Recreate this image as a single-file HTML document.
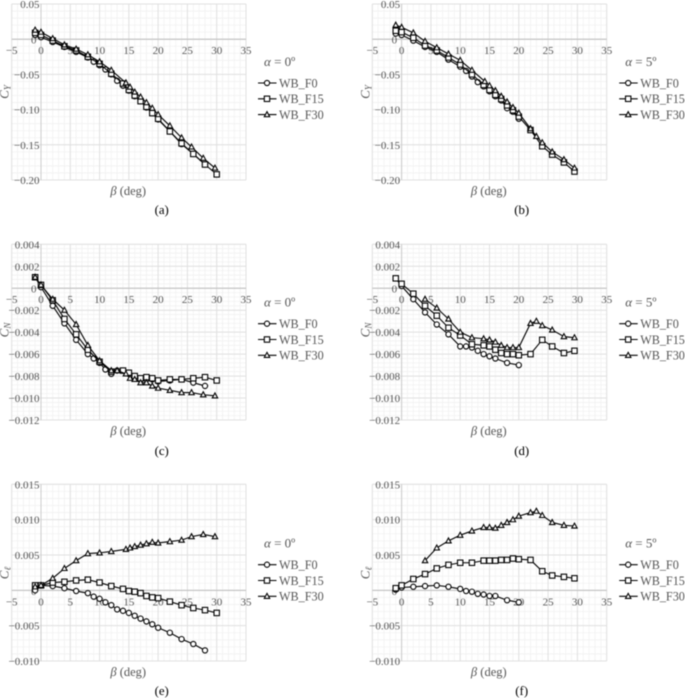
<!DOCTYPE html>
<html>
<head>
<meta charset="utf-8">
<title>Aerodynamic coefficients versus sideslip angle</title>
<style>
html,body{margin:0;padding:0;background:#fff;width:685px;height:698px;overflow:hidden}
svg{display:block;filter:blur(0.5px)}
text{font-family:"Liberation Serif",serif}
</style>
</head>
<body>
<svg id="figure" width="685" height="698" viewBox="0 0 685 698" xmlns="http://www.w3.org/2000/svg"></svg>
<script>
// Axis ticks
const xTickLabels = [-5, 0, 5, 10, 15, 20, 25, 30, 35];
const yTicksCY = [0.05, 0, -0.05, -0.10, -0.15, -0.20];
const yTicksCN = [0.004, 0.002, 0, -0.002, -0.004, -0.006, -0.008, -0.010, -0.012];
const yTicksCL = [0.015, 0.010, 0.005, 0, -0.005, -0.010];
const seriesNames = ["WB_F0", "WB_F15", "WB_F30"];

// Panel (a) CY, alpha = 0
const aF0Beta = [-1,0,2,4,6,8,9,10,11,12,13,14,15,16,17,18,19,20,22,24,26,28];
const aF0Values = [0.006,0.003,-0.004,-0.011,-0.018,-0.026,-0.032,-0.037,-0.043,-0.050,-0.059,-0.066,-0.073,-0.081,-0.088,-0.097,-0.105,-0.114,-0.131,-0.149,-0.163,-0.178];
const aF15Beta = [-1,0,2,4,6,8,10,12,14,15,16,17,18,19,20,22,24,26,28,30];
const aF15Values = [0.009,0.006,-0.002,-0.010,-0.016,-0.025,-0.035,-0.049,-0.063,-0.072,-0.080,-0.088,-0.096,-0.105,-0.113,-0.131,-0.148,-0.163,-0.178,-0.192];
const aF30Beta = [-1,0,2,4,6,8,10,12,14.5,15.2,16,17,18,19,20,22,24,25.7,27.7,29.7];
const aF30Values = [0.013,0.010,0.001,-0.008,-0.014,-0.022,-0.032,-0.044,-0.062,-0.068,-0.075,-0.082,-0.090,-0.098,-0.107,-0.123,-0.140,-0.153,-0.169,-0.183];

// Panel (b) CY, alpha = 5
const bF0Beta = [-1,0,2,4,6,8,10,11,12,13,14,15,16,17,18,19,20];
const bF0Values = [0.008,0.006,-0.002,-0.011,-0.018,-0.029,-0.039,-0.045,-0.053,-0.061,-0.067,-0.074,-0.081,-0.087,-0.098,-0.103,-0.113];
const bF15Beta = [-1,0,2,4,6,8,10,12,14,15,16,17,18,19,20,22,24,25.7,27.7,29.5];
const bF15Values = [0.012,0.010,0.002,-0.009,-0.016,-0.026,-0.036,-0.050,-0.065,-0.072,-0.079,-0.085,-0.094,-0.101,-0.110,-0.129,-0.152,-0.164,-0.175,-0.188];
const bF30Beta = [-1,0,2,4,6,8,10,12,14.2,15,16,17,18,19,20,22,23,24,25.7,27.7,29.5];
const bF30Values = [0.020,0.017,0.009,-0.003,-0.012,-0.021,-0.030,-0.044,-0.060,-0.066,-0.073,-0.081,-0.089,-0.097,-0.105,-0.127,-0.138,-0.147,-0.160,-0.171,-0.183];

// Panel (c) CN, alpha = 0
const cF0Beta = [-1,0,2,4,6,8,9,10,11,12,13,14,15,16,17,18,19,20,22,24,26,28];
const cF0Values = [0.0010,0.0001,-0.0016,-0.0032,-0.0047,-0.0060,-0.0064,-0.0068,-0.0074,-0.0078,-0.0075,-0.0075,-0.0078,-0.0081,-0.0083,-0.0083,-0.0083,-0.0085,-0.0084,-0.0083,-0.0086,-0.0089];
const cF15Beta = [-1,0,2,4,6,8,10,12,14,15,16,17,18,19,20,22,24,26,28,30];
const cF15Values = [0.0010,0.0003,-0.0011,-0.0028,-0.0042,-0.0056,-0.0067,-0.0076,-0.0075,-0.0077,-0.0080,-0.0082,-0.0081,-0.0082,-0.0084,-0.0083,-0.0083,-0.0082,-0.0081,-0.0084];
const cF30Beta = [-1,0,2,4,6,8,10,12,13,14.5,15.2,16,17,18,19,20,22,24,25.7,27.7,29.7];
const cF30Values = [0.0010,0.0003,-0.0010,-0.0020,-0.0033,-0.0052,-0.0066,-0.0075,-0.0075,-0.0078,-0.0082,-0.0083,-0.0086,-0.0086,-0.0089,-0.0091,-0.0093,-0.0095,-0.0095,-0.0097,-0.0098];

// Panel (d) CN, alpha = 5
const dF0Beta = [-1,0,2,4,6,8,10,11,12,13,14,15,16,18,20];
const dF0Values = [0.0009,0.0002,-0.0010,-0.0022,-0.0033,-0.0042,-0.0053,-0.0053,-0.0054,-0.0057,-0.0060,-0.0062,-0.0064,-0.0068,-0.0070];
const dF15Beta = [-1,0,2,4,6,8,10,12,14,15,16,17,18,19,20,22,24,25.7,27.7,29.5];
const dF15Values = [0.0009,0.0004,-0.0005,-0.0016,-0.0025,-0.0036,-0.0043,-0.0051,-0.0052,-0.0053,-0.0056,-0.0059,-0.0060,-0.0060,-0.0061,-0.0060,-0.0047,-0.0053,-0.0059,-0.0057];
const dF30Beta = [4,6,8,10,12,14,15,16,17,18,19,20,22,23,24,25.7,27.7,29.5];
const dF30Values = [-0.0010,-0.0018,-0.0028,-0.0040,-0.0045,-0.0046,-0.0047,-0.0049,-0.0052,-0.0054,-0.0054,-0.0054,-0.0032,-0.0030,-0.0034,-0.0038,-0.0044,-0.0045];

// Panel (e) Cl, alpha = 0
const eF0Beta = [-1,0,2,4,6,8,9,10,11,12,13,14,15,16,17,18,19,20,22,24,26,28];
const eF0Values = [0.0000,0.0007,0.0006,0.0003,-0.0001,-0.0004,-0.0009,-0.0012,-0.0017,-0.0021,-0.0027,-0.0029,-0.0032,-0.0036,-0.0040,-0.0044,-0.0048,-0.0053,-0.0060,-0.0069,-0.0076,-0.0085];
const eF15Beta = [-1,0,2,4,6,8,10,12,14,15,16,17,18,19,20,22,24,26,28,30];
const eF15Values = [0.0007,0.0007,0.0011,0.0012,0.0014,0.0015,0.0011,0.0006,0.0002,-0.0001,-0.0002,-0.0004,-0.0008,-0.0010,-0.0011,-0.0016,-0.0021,-0.0025,-0.0028,-0.0032];
const eF30Beta = [-1,0,2,4,6,8,10,12,14.5,15.2,16,17,18,19,20,22,24,25.7,27.7,29.7];
const eF30Values = [0.0005,0.0007,0.0017,0.0031,0.0042,0.0052,0.0053,0.0055,0.0058,0.0060,0.0062,0.0064,0.0066,0.0068,0.0067,0.0069,0.0071,0.0076,0.0079,0.0076];

// Panel (f) Cl, alpha = 5
const fF0Beta = [-1,0,2,4,6,8,10,11,12,13,14,15,16,18,20];
const fF0Values = [0.0001,0.0004,0.0005,0.0006,0.0007,0.0005,0.0002,-0.0001,-0.0002,-0.0005,-0.0006,-0.0008,-0.0008,-0.0014,-0.0017];
const fF15Beta = [-1,0,2,4,6,8,10,12,14,15,16,17,18,19,20,22,24,25.7,27.7,29.5];
const fF15Values = [0.0003,0.0007,0.0016,0.0023,0.0031,0.0036,0.0039,0.0039,0.0042,0.0042,0.0042,0.0043,0.0043,0.0045,0.0044,0.0043,0.0027,0.0021,0.0019,0.0017];
const fF30Beta = [4,6,8,10,12,14,15,16,17,18,19,20,22,23,24,25.7,27.7,29.5];
const fF30Values = [0.0042,0.0060,0.0070,0.0078,0.0084,0.0089,0.0089,0.0088,0.0092,0.0096,0.0100,0.0105,0.0110,0.0112,0.0106,0.0096,0.0092,0.0091];

const NS = "http://www.w3.org/2000/svg";
const figure = document.getElementById("figure");

function svgEl(parent, tag, attrs) {
  const el = document.createElementNS(NS, tag);
  for (const k in attrs) el.setAttribute(k, attrs[k]);
  parent.appendChild(el);
  return el;
}

function marker(parent, kind, cx, cy) {
  let el;
  if (kind === 0) {
    el = svgEl(parent, "circle", {cx: cx, cy: cy, r: 2.6});
  } else if (kind === 1) {
    el = svgEl(parent, "rect", {x: cx - 2.7, y: cy - 2.7, width: 5.4, height: 5.4});
  } else {
    el = svgEl(parent, "polygon", {points: (cx - 2.7) + "," + (cy + 2.1) + " " + (cx + 2.7) + "," + (cy + 2.1) + " " + cx + "," + (cy - 2.9)});
  }
  el.setAttribute("fill", "#fff");
  el.setAttribute("stroke", "#000");
  el.setAttribute("stroke-width", "1.1");
  
  
  return el;
}

function formatY(v, digits) {
  if (v === 0) return "0";
  return (v < 0 ? "\u2212" : "") + Math.abs(v).toFixed(digits);
}

function drawPanel(p) {
  const g = svgEl(figure, "g", {});
  
  

  const xScale = function (v) { return p.left + (v + 5) * (p.right - p.left) / 40; };
  const yMax = p.yTicks[0];
  const yMin = p.yTicks[p.yTicks.length - 1];
  const yScale = function (v) { return p.top + (yMax - v) * (p.bottom - p.top) / (yMax - yMin); };

  // Minor grid
  const minorGrid = svgEl(g, "g", {stroke: "#f1f1f1", "stroke-width": "0.8"});
  
  
  for (let i = -5; i <= 35; i++) {
    svgEl(minorGrid, "line", {x1: xScale(i), x2: xScale(i), y1: p.top, y2: p.bottom});
  }
  const yStep = p.yTicks[0] - p.yTicks[1];
  const minorCount = (p.yTicks.length - 1) * 5;
  for (let i = 0; i <= minorCount; i++) {
    const yv = yMax - i * yStep / 5;
    svgEl(minorGrid, "line", {x1: p.left, x2: p.right, y1: yScale(yv), y2: yScale(yv)});
  }

  // Major grid
  const majorGrid = svgEl(g, "g", {stroke: "#e0e0e0", "stroke-width": "1"});
  
  
  xTickLabels.forEach(function (t) {
    svgEl(majorGrid, "line", {x1: xScale(t), x2: xScale(t), y1: p.top, y2: p.bottom});
  });
  p.yTicks.forEach(function (t) {
    svgEl(majorGrid, "line", {x1: p.left, x2: p.right, y1: yScale(t), y2: yScale(t)});
  });

  // Axes
  const xAxis = svgEl(g, "line", {x1: p.left, x2: p.right, y1: yScale(0), y2: yScale(0), stroke: "#bebebe", "stroke-width": "1"});
  
  
  const yAxis = svgEl(g, "line", {x1: xScale(0), x2: xScale(0), y1: p.top, y2: p.bottom, stroke: "#cccccc", "stroke-width": "1"});
  
  

  // X tick labels
  xTickLabels.forEach(function (t) {
    const lab = svgEl(g, "text", {x: xScale(t), y: yScale(0) + 15, "text-anchor": "middle", "font-size": "11", fill: "#555"});
    lab.textContent = t < 0 ? "\u2212" + Math.abs(t) : String(t);
    
    
  });

  // Y tick labels
  p.yTicks.forEach(function (t) {
    const lab = svgEl(g, "text", {x: t === 0 ? xScale(0) - 4.5 : xScale(0) - 1.5, y: yScale(t) + (t === 0 ? 4.5 : 4), "text-anchor": "end", "font-size": "11", fill: "#555"});
    lab.textContent = formatY(t, p.digits);
    
    
  });

  // Series
  p.series.forEach(function (s, idx) {
    const sg = svgEl(g, "g", {});
    
    
    const pts = s.beta.map(function (b, i) { return xScale(b) + "," + yScale(s.values[i]); }).join(" ");
    svgEl(sg, "polyline", {points: pts, fill: "none", stroke: "#000", "stroke-width": "1.1"});
    s.beta.forEach(function (b, i) {
      marker(sg, idx, xScale(b), yScale(s.values[i]));
    });
  });

  // Axis titles
  const xt = svgEl(g, "text", {x: p.left + 116.5, y: p.bottom + 15, "text-anchor": "middle", "font-size": "12.5", fill: "#555"});
  
  
  const xtBeta = svgEl(xt, "tspan", {"font-style": "italic"});
  xtBeta.textContent = "\u03B2";
  const xtRest = svgEl(xt, "tspan", {});
  xtRest.textContent = " (deg)";

  const yt = svgEl(g, "text", {transform: "translate(" + (p.left - 3) + "," + p.yTitleY + ") rotate(-90)", "text-anchor": "middle", "font-size": "13", "font-style": "italic", fill: "#555"});
  
  
  const ytC = svgEl(yt, "tspan", {});
  ytC.textContent = "C";
  const ytSub = svgEl(yt, "tspan", {dy: "2", "font-size": "9"});
  ytSub.textContent = p.sub;

  // Alpha label
  const al = svgEl(g, "text", {x: p.legendX + 6, y: p.legendY - 17, "font-size": "13", fill: "#555"});
  
  
  const alA = svgEl(al, "tspan", {"font-style": "italic"});
  alA.textContent = "\u03B1";
  const alB = svgEl(al, "tspan", {});
  alB.textContent = " = " + p.alpha + "\u00BA";

  // Legend
  seriesNames.forEach(function (name, idx) {
    const ly = p.legendY + idx * 15.8;
    const lg = svgEl(g, "g", {});
    
    
    svgEl(lg, "line", {x1: p.legendX, x2: p.legendX + 18.5, y1: ly, y2: ly, stroke: "#000", "stroke-width": "1.1"});
    marker(lg, idx, p.legendX + 9, ly);
    const t = svgEl(lg, "text", {x: p.legendX + 21, y: ly + 4.4, "font-size": "12.2", fill: "#555"});
    t.textContent = name;
  });

  // Caption
  const cap = svgEl(g, "text", {x: p.captionX, y: p.captionY, "text-anchor": "middle", "font-size": "12.8", fill: "#000"});
  cap.textContent = "(" + p.id + ")";
  
  
}

const leftCol = {left: 11.7, right: 246, legendX: 258, captionX: 161.7};
const rightCol = {left: 372.3, right: 606.7, legendX: 619.2, captionX: 521.7};

drawPanel(Object.assign({id: "a", top: 4, bottom: 180, yTicks: yTicksCY, digits: 2, sub: "Y", alpha: 0, yTitleY: 92, legendY: 83, captionY: 214,
  series: [{beta: aF0Beta, values: aF0Values}, {beta: aF15Beta, values: aF15Values}, {beta: aF30Beta, values: aF30Values}]}, leftCol));
drawPanel(Object.assign({id: "b", top: 4, bottom: 180, yTicks: yTicksCY, digits: 2, sub: "Y", alpha: 5, yTitleY: 92, legendY: 83, captionY: 214,
  series: [{beta: bF0Beta, values: bF0Values}, {beta: bF15Beta, values: bF15Values}, {beta: bF30Beta, values: bF30Values}]}, rightCol));
drawPanel(Object.assign({id: "c", top: 244.3, bottom: 420, yTicks: yTicksCN, digits: 3, sub: "N", alpha: 0, yTitleY: 330, legendY: 323.7, captionY: 455,
  series: [{beta: cF0Beta, values: cF0Values}, {beta: cF15Beta, values: cF15Values}, {beta: cF30Beta, values: cF30Values}]}, leftCol));
drawPanel(Object.assign({id: "d", top: 244.3, bottom: 420, yTicks: yTicksCN, digits: 3, sub: "N", alpha: 5, yTitleY: 330, legendY: 323.7, captionY: 455,
  series: [{beta: dF0Beta, values: dF0Values}, {beta: dF15Beta, values: dF15Values}, {beta: dF30Beta, values: dF30Values}]}, rightCol));
drawPanel(Object.assign({id: "e", top: 484.3, bottom: 661, yTicks: yTicksCL, digits: 3, sub: "\u2113", alpha: 0, yTitleY: 573, legendY: 564.7, captionY: 695,
  series: [{beta: eF0Beta, values: eF0Values}, {beta: eF15Beta, values: eF15Values}, {beta: eF30Beta, values: eF30Values}]}, leftCol));
drawPanel(Object.assign({id: "f", top: 484.3, bottom: 661, yTicks: yTicksCL, digits: 3, sub: "\u2113", alpha: 5, yTitleY: 573, legendY: 564.7, captionY: 695,
  series: [{beta: fF0Beta, values: fF0Values}, {beta: fF15Beta, values: fF15Values}, {beta: fF30Beta, values: fF30Values}]}, rightCol));
</script>
</body>
</html>
